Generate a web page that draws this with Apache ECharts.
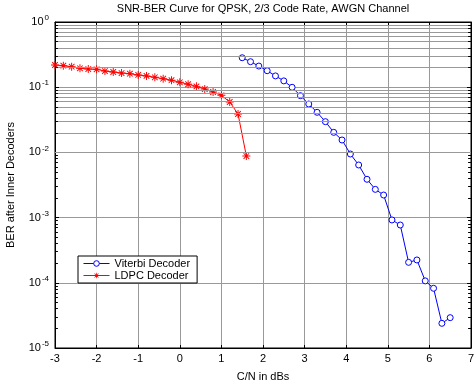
<!DOCTYPE html>
<html>
<head>
<meta charset="utf-8">
<script src="https://cdn.jsdelivr.net/npm/echarts@6/dist/echarts.min.js"></script>
<style>
  html, body { margin: 0; padding: 0; background: #fff; }
  #chart { width: 475px; height: 383px; }
</style>
</head>
<body>
<div id="chart"></div>
<script>
const viterbiSnr = [1.5, 1.7, 1.9, 2.1, 2.3, 2.5, 2.7, 2.9, 3.1, 3.3, 3.5, 3.7, 3.9,
  4.1, 4.3, 4.5, 4.7, 4.9, 5.1, 5.3, 5.5, 5.7, 5.9, 6.1, 6.3, 6.5]
const viterbiBer = [0.283, 0.246, 0.211, 0.179, 0.149, 0.125, 0.0996, 0.0741, 0.0552,
  0.0412, 0.0296, 0.0203, 0.0155, 0.00945, 0.00641, 0.00387, 0.00271, 0.00222,
  9.2e-4, 7.7e-4, 2.06e-4, 2.24e-4, 1.07e-4, 8.24e-5, 2.39e-5, 2.92e-5]

const ldpcSnr = [-3, -2.8, -2.6, -2.4, -2.2, -2, -1.8, -1.6, -1.4, -1.2, -1, -0.8,
  -0.6, -0.4, -0.2, 0, 0.2, 0.4, 0.6, 0.8, 1, 1.2, 1.4, 1.6]
const ldpcBer = [0.219, 0.214, 0.206, 0.195, 0.19, 0.188, 0.177, 0.171, 0.165, 0.161,
  0.154, 0.149, 0.142, 0.135, 0.128, 0.119, 0.111, 0.103, 0.0938, 0.0844, 0.0751,
  0.0593, 0.0388, 0.0088]

const decades = [1e-5, 1e-4, 1e-3, 1e-2, 1e-1]
const minorSteps = [2, 3, 4, 5, 6, 7, 8, 9]

const xMin = -3
const xMax = 7

// asterisk marker (matlab '*')
const starPath = 'path://M-5,-0.6L5,-0.6L5,0.6L-5,0.6Z' +
  'M-0.6,-5L0.6,-5L0.6,5L-0.6,5Z' +
  'M-3.08,-3.92L3.92,3.08L3.08,3.92L-3.92,-3.08Z' +
  'M-3.92,3.08L3.08,-3.92L3.92,-3.08L-3.08,3.92Z'

const chart = echarts.init(document.getElementById('chart'))

// minor grid lines at 2..9 x 10^k, plus little inward ticks on both sides
const gridLines = []
decades.forEach((d) => {
  minorSteps.forEach((m) => {
    const v = d * m
    gridLines.push({ yAxis: v })
    gridLines.push([
      { coord: [xMin, v], lineStyle: { color: '#000' } },
      { coord: [xMin + 0.07, v] },
    ])
    gridLines.push([
      { coord: [xMax - 0.07, v], lineStyle: { color: '#000' } },
      { coord: [xMax, v] },
    ])
  })
})

const font = 'Liberation Sans, Arial, sans-serif'

const option = {
  animation: false,
  backgroundColor: '#fff',
  textStyle: { fontFamily: font },
  title: {
    text: 'SNR-BER Curve for QPSK, 2/3 Code Rate, AWGN Channel',
    left: 263,
    textAlign: 'center',
    top: 3,
    padding: 0,
    textStyle: { fontSize: 11, fontWeight: 'normal', color: '#000', fontFamily: font },
  },
  legend: {
    data: ['Viterbi Decoder', 'LDPC Decoder'],
    orient: 'vertical',
    left: 78,
    top: 256,
    padding: [2, 7, 2, 5],
    itemGap: 1,
    itemWidth: 26,
    itemHeight: 7,
    backgroundColor: '#fff',
    borderColor: '#000',
    borderWidth: 1,
    lineStyle: { width: 1 },
    itemStyle: { borderWidth: 1 },
    textStyle: { fontSize: 11, color: '#000', fontFamily: font },
  },
  grid: {
    left: 55,
    right: 4,
    top: 22,
    bottom: 35,
    show: true,
    outerBoundsMode: 'none',
    containLabel: false,
    borderColor: '#000',
    borderWidth: 1,
    backgroundColor: '#fff',
  },
  xAxis: [
    {
      type: 'value',
      min: xMin,
      max: xMax,
      interval: 1,
      name: 'C/N in dBs',
      nameLocation: 'middle',
      nameGap: 23,
      nameTextStyle: { fontSize: 11, color: '#000', fontFamily: font },
      axisLine: { onZero: false, lineStyle: { color: '#000' } },
      axisTick: { inside: true, length: 3, lineStyle: { color: '#000' } },
      axisLabel: { color: '#000', fontSize: 11, margin: 5, fontFamily: font },
      splitLine: { show: true, lineStyle: { color: '#999', width: 1 } },
    },
    {
      type: 'value',
      position: 'top',
      min: xMin,
      max: xMax,
      interval: 1,
      axisLine: { onZero: false, lineStyle: { color: '#000' } },
      axisTick: { inside: true, length: 3, lineStyle: { color: '#000' } },
      axisLabel: { show: false },
      splitLine: { show: false },
    },
  ],
  yAxis: [
    {
      type: 'log',
      logBase: 10,
      min: 1e-5,
      max: 1,
      name: 'BER after Inner Decoders',
      nameLocation: 'middle',
      nameGap: 39,
      nameTextStyle: { fontSize: 11, color: '#000', fontFamily: font },
      axisLine: { onZero: false, lineStyle: { color: '#000' } },
      axisTick: { inside: true, length: 4, lineStyle: { color: '#000' } },
      axisLabel: {
        margin: 6,
        formatter: (v) => '{b|10}{s|' + Math.round(Math.log10(v)) + '}',
        rich: {
          b: { fontSize: 11, color: '#000', fontFamily: font },
          s: { fontSize: 8, color: '#000', fontFamily: font, padding: [0, 0, 8, 1] },
        },
      },
      splitLine: { show: true, lineStyle: { color: '#999', width: 1 } },
    },
    {
      type: 'log',
      logBase: 10,
      min: 1e-5,
      max: 1,
      position: 'right',
      axisLine: { onZero: false, lineStyle: { color: '#000' } },
      axisTick: { inside: true, length: 4, lineStyle: { color: '#000' } },
      axisLabel: { show: false },
      splitLine: { show: false },
    },
  ],
  series: [
    {
      name: 'grid',
      type: 'line',
      data: [],
      z: 1,
      silent: true,
      markLine: {
        silent: true,
        symbol: 'none',
        label: { show: false },
        animation: false,
        lineStyle: { color: '#999', width: 1, type: 'solid' },
        emphasis: { disabled: true },
        data: gridLines,
      },
    },
    {
      name: 'Viterbi Decoder',
      type: 'line',
      z: 3,
      data: viterbiSnr.map((x, i) => [x, viterbiBer[i]]),
      color: '#0000ff',
      symbol: 'circle',
      symbolSize: 6,
      lineStyle: { width: 1, color: '#0000ff' },
      itemStyle: { color: '#fff', borderColor: '#0000ff', borderWidth: 1 },
    },
    {
      name: 'LDPC Decoder',
      type: 'line',
      z: 3,
      data: ldpcSnr.map((x, i) => [x, ldpcBer[i]]),
      color: '#ff0000',
      symbol: starPath,
      symbolSize: 8,
      lineStyle: { width: 1, color: '#ff0000' },
      itemStyle: { color: '#ff0000', borderWidth: 0 },
    },
  ],
}

chart.setOption(option)
</script>
</body>
</html>
